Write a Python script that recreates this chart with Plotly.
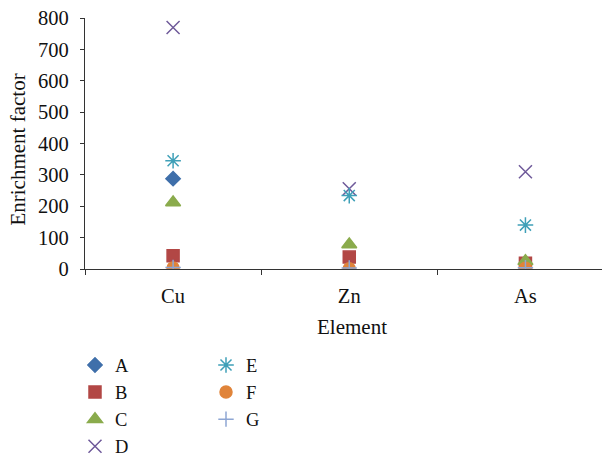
import plotly.graph_objects as go

elements = ["Cu", "Zn", "As"]
series_names = ["A", "B", "C", "D", "E", "F", "G"]
A = [288, None, None]
B = [42, 38, 18]
C = [212, 78, 25]
D = [770, 256, 310]
E = [345, 234, 140]
F = [3, 1, 2]
G = [5, 3, 4]
values = [A, B, C, D, E, F, G]

symbols = ["diamond", "square", "triangle-up", "x-thin-open", "asterisk-open", "circle", "cross-thin-open"]
colors = ["#3F6FAA", "#B24745", "#8AAB4C", "#6F5A9A", "#3FA0B8", "#E0843A", "#8EA6D3"]
sizes = [11, 12, 13, 13, 13, 12, 11]
legends = ["legend", "legend", "legend", "legend", "legend2", "legend2", "legend2"]

FONT = "Liberation Serif"
FS = 20.5
FT = 21
W, H = 602, 447

fig = go.Figure()
for name, vals, sym, col, sz, lg in zip(series_names, values, symbols, colors, sizes, legends):
    fig.add_trace(go.Scatter(
        x=elements, y=vals, mode="markers", name=name,
        legend=lg, legendgroup=name,
        marker=dict(symbol=sym, color=col, size=sz,
                    line=dict(color=col, width=1.5)),
    ))

leg_common = dict(xref="container", yref="container", xanchor="left", yanchor="top",
                  orientation="v", tracegroupgap=0,
                  font=dict(family=FONT, size=18.5, color="#111111"), itemwidth=30,
                  bgcolor="rgba(0,0,0,0)")

fig.update_layout(
    width=W, height=H,
    margin=dict(l=77, r=0, t=10, b=186, autoexpand=False),
    plot_bgcolor="white", paper_bgcolor="white",
    font=dict(family=FONT, size=FS, color="#111111"),
    showlegend=True,
    legend=dict(x=67/W, y=1 - 338.5/H, **leg_common),
    legend2=dict(x=198/W, y=1 - 338.5/H, **leg_common),
    annotations=[
        dict(text="Element", xref="paper", yref="paper", x=0.5086, y=-0.231,
             xanchor="center", yanchor="middle", showarrow=False,
             font=dict(family=FONT, size=FT, color="#111111")),
        dict(text="Enrichment factor", xref="paper", yref="paper", x=-0.1276, y=0.476,
             xanchor="center", yanchor="middle", showarrow=False, textangle=-90,
             font=dict(family=FONT, size=FT, color="#111111")),
    ],
)
fig.update_xaxes(
    type="category", range=[-0.5, 2.48], automargin=False,
    showline=True, linecolor="#333333", linewidth=1.2,
    ticks="outside", tickson="boundaries", ticklen=5, tickcolor="#333333",
    ticklabelstandoff=8, ticklabeloverflow="allow",
    showgrid=False, zeroline=False,
    tickfont=dict(family=FONT, size=FS),
)
fig.update_yaxes(
    range=[0, 800], dtick=100, automargin=False,
    showline=True, linecolor="#333333", linewidth=1.2,
    ticks="outside", ticklen=4, tickcolor="#333333",
    ticklabelstandoff=7, ticklabeloverflow="allow",
    showgrid=False, zeroline=False,
    tickfont=dict(family=FONT, size=FS),
)

fig.write_html("out.html")
